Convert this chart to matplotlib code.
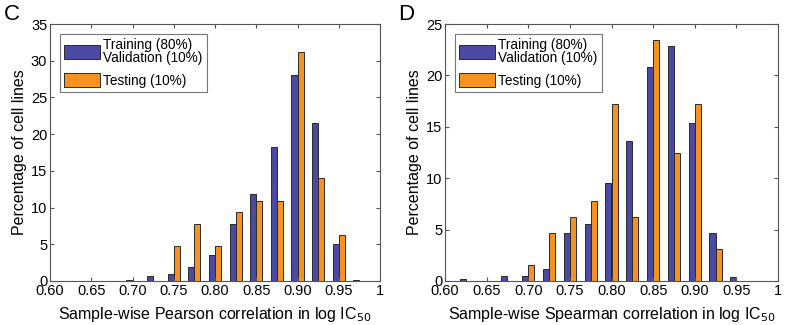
import matplotlib
matplotlib.use("Agg")
import matplotlib.pyplot as plt
import numpy as np

plt.rcParams['font.family'] = ['Liberation Sans', 'DejaVu Sans']

# Panel C data
bins_c = [0.700, 0.725, 0.750, 0.775, 0.800, 0.825, 0.850, 0.875, 0.900, 0.925, 0.950, 0.975]
train_c = [0.2, 0.7, 0.9, 1.95, 3.6, 7.7, 11.9, 18.3, 28.1, 21.5, 5.0, 0.2]
test_c = [0.0, 0.0, 4.7, 7.8, 4.7, 9.4, 10.9, 10.9, 31.2, 14.05, 6.2, 0.0]

# Panel D data
bins_d = [0.625, 0.650, 0.675, 0.700, 0.725, 0.750, 0.775, 0.800, 0.825, 0.850, 0.875, 0.900, 0.925, 0.950]
train_d = [0.16, 0.0, 0.5, 0.5, 1.2, 4.65, 5.55, 9.5, 13.6, 20.8, 22.9, 15.4, 4.65, 0.35]
test_d = [0.0, 0.0, 0.0, 1.55, 4.65, 6.2, 7.8, 17.2, 6.2, 23.45, 12.5, 17.2, 3.1, 0.0]

xticks = [0.60, 0.65, 0.70, 0.75, 0.80, 0.85, 0.90, 0.95, 1.0]
xticklabels = ['0.60', '0.65', '0.70', '0.75', '0.80', '0.85', '0.90', '0.95', '1']
labels = ['Training (80%)\nValidation (10%)', 'Testing (10%)']
ylabel = 'Percentage of cell lines'
xlabel_c = 'Sample-wise Pearson correlation in log IC$_{50}$'
xlabel_d = 'Sample-wise Spearman correlation in log IC$_{50}$'

BLUE = '#4A4AA3'
ORANGE = '#F7921E'
EDGE = '#2a2a2a'
AXC = '#555555'

fig = plt.figure(figsize=(7.85, 3.25), dpi=100)
W, H = 785, 325
ax_c = fig.add_axes([50 / W, 1 - 281 / H, (380 - 50) / W, (281 - 24) / H])
ax_d = fig.add_axes([445 / W, 1 - 281 / H, (778 - 445) / W, (281 - 24) / H])

bw = 0.0073


def draw(ax, bins, tr, te, ymax, xlabel, letter, lx):
    b = np.array(bins)
    h1 = ax.bar(b - bw / 2, tr, width=bw, color=BLUE, edgecolor=EDGE, linewidth=0.7)
    h2 = ax.bar(b + bw / 2, te, width=bw, color=ORANGE, edgecolor=EDGE, linewidth=0.7)
    ax.set_xlim(0.6, 1.0)
    ax.set_ylim(0, ymax)
    ax.set_xticks(xticks)
    ax.set_xticklabels(xticklabels)
    ax.set_yticks(np.arange(0, ymax + 1, 5))
    ax.tick_params(direction='in', top=True, right=True, labelsize=10.5, length=3,
                   color=AXC, pad=2)
    for s in ax.spines.values():
        s.set_color(AXC)
        s.set_linewidth(0.8)
    ax.set_xlabel(xlabel, fontsize=11.5, labelpad=5)
    ax.set_ylabel(ylabel, fontsize=11.5, labelpad=3)
    leg = ax.legend([h1, h2], labels, loc='upper left', fontsize=9.8,
                    frameon=True, fancybox=False, edgecolor=AXC,
                    borderpad=0.3, labelspacing=0.6, handlelength=2.7, handleheight=1.2,
                    handletextpad=0.2, borderaxespad=0.7)
    for t in leg.get_texts():
        t.set_linespacing(0.95)
    leg.get_frame().set_linewidth(0.8)
    fig.text(lx / W, 1 - 14 / H, letter, fontsize=16, va='center', ha='left')


draw(ax_c, bins_c, train_c, test_c, 35, xlabel_c, 'C', 4)
draw(ax_d, bins_d, train_d, test_d, 25, xlabel_d, 'D', 398)

fig.savefig('out.png', dpi=100)
